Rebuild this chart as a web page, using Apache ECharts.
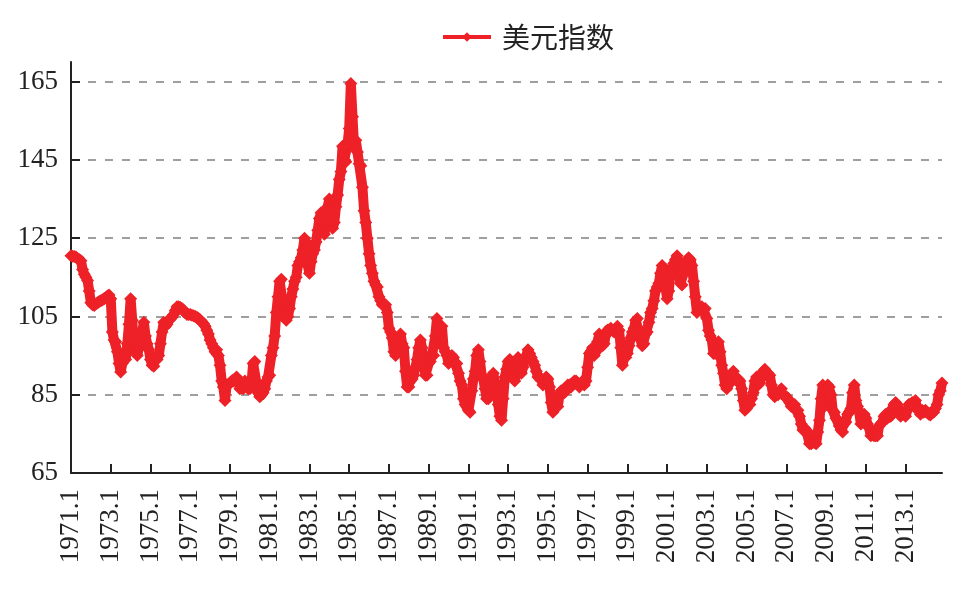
<!DOCTYPE html>
<html>
<head>
<meta charset="utf-8">
<title>美元指数</title>
<script src="https://cdn.jsdelivr.net/npm/echarts@6/dist/echarts.min.js"></script>
<style>
  html, body { margin: 0; padding: 0; background: #ffffff; }
  #chart { width: 976px; height: 590px; }
</style>
</head>
<body>
<div id="chart"></div>
<script>
// monthly values, Jan..Dec
const Y1971 = [120.5, 120.4, 120.3, 120.2, 119.8, 119.5, 119.2, 117.0, 115.8, 115.0, 114.2, 111.5];
const Y1972 = [108.5, 108.0, 107.8, 108.2, 108.5, 108.8, 109.0, 109.2, 109.5, 109.8, 110.2, 110.5];
const Y1973 = [109.5, 101, 99, 98.5, 96, 93, 90.8, 93, 95, 94, 98, 103];
const Y1974 = [109.5, 104, 98, 96, 95, 97, 100, 101, 103.5, 100, 98, 96.5];
const Y1975 = [94, 92.5, 92.3, 94, 94, 95, 98, 101, 103.5, 102.5, 103, 104];
const Y1976 = [104.5, 104.8, 105.5, 106.5, 107.5, 107.5, 107.3, 107, 106.5, 106, 105.5, 105.5];
const Y1977 = [105.5, 105.3, 105.2, 105, 104.8, 104.5, 104, 103.5, 103.2, 102.5, 101.5, 100.5];
const Y1978 = [99, 98, 97, 96, 96.5, 95, 92.5, 88.5, 87, 83.5, 87.5, 87.5];
const Y1979 = [88, 88.5, 88.5, 89, 89.5, 88.5, 86.5, 87, 86.5, 88.5, 87.5, 86.5];
const Y1980 = [86.5, 88, 93, 93.5, 88, 85.5, 84.5, 85, 85.5, 86.5, 88.5, 89.5];
const Y1981 = [90, 95, 97, 100, 106, 110, 114, 114.5, 108, 105, 104, 105];
const Y1982 = [107, 110, 112, 114, 115, 118, 119, 120, 122, 125, 124, 118];
const Y1983 = [116, 119, 121, 122, 124, 127, 130, 131.5, 129, 126, 129, 133];
const Y1984 = [135, 131, 127.5, 129, 133, 136, 140, 142, 148.5, 145, 144.5, 149];
const Y1985 = [153, 164.5, 156, 148, 150, 147, 144, 143.5, 138, 132, 129, 125];
const Y1986 = [121, 118, 116, 114, 113, 112.5, 110, 109, 108, 108, 108, 106];
const Y1987 = [102, 101, 99.5, 96, 95, 97, 99.5, 100.5, 98, 97, 91, 87];
const Y1988 = [87, 88.5, 89, 90, 92, 94, 97, 99, 97, 93, 90, 90];
const Y1989 = [93, 93.5, 95, 95, 100, 104.5, 100, 101, 102.5, 97, 96, 95];
const Y1990 = [93, 93.5, 95, 94.5, 93, 93, 90.5, 88.5, 87.5, 84, 82.5, 82.5];
const Y1991 = [81, 80.5, 86, 89, 91, 95, 96.5, 93.5, 90, 89, 86.5, 84];
const Y1992 = [84, 87, 89.5, 90.5, 88, 86, 82.5, 79.5, 78.5, 84, 89.5, 91.5];
const Y1993 = [93.5, 94, 92, 89.5, 88.5, 91, 94.5, 93, 90.5, 92, 94, 95];
const Y1994 = [96.5, 95.5, 94.5, 93.5, 92.5, 91, 89.5, 89.5, 89, 87.5, 89, 89.5];
const Y1995 = [89, 87, 83, 80.5, 82, 82, 82, 85, 86, 85.5, 85.5, 86];
const Y1996 = [87.5, 87.5, 87, 88, 88.5, 88.5, 88, 87, 88, 88.5, 87.5, 88.5];
const Y1997 = [92, 95.5, 96, 97, 95, 96, 98.5, 100.5, 98, 97.5, 98, 100.5];
const Y1998 = [101.5, 101, 102, 101.5, 101, 102, 102.5, 101.5, 97, 92.5, 94.5, 94.5];
const Y1999 = [95.5, 97.5, 99.5, 101, 102, 104, 104.5, 101, 99, 97.5, 98, 100.5];
const Y2000 = [101, 103.5, 106, 107, 109, 111.5, 112.5, 113.5, 116, 118, 117, 112.5];
const Y2001 = [109.5, 111.5, 116, 117, 118.5, 119.5, 120.5, 117, 113.5, 113, 116, 117.5];
const Y2002 = [119.5, 120, 119.5, 118, 114, 110, 106, 106.5, 107, 107.5, 106.5, 107];
const Y2003 = [104.5, 101.5, 100, 99, 95.5, 95.5, 97, 98.5, 96, 92.5, 90.5, 87.5];
const Y2004 = [86.5, 87.5, 88.5, 90.5, 91, 89.5, 88.5, 89, 88.5, 86.5, 83.5, 81];
const Y2005 = [81.5, 83, 82.5, 84, 85.5, 88.5, 89.5, 87.5, 88, 89.5, 91, 91.5];
const Y2006 = [90, 90.5, 90, 87.5, 85, 84.5, 85, 85, 86, 86.5, 85, 84.5];
const Y2007 = [84.5, 84, 83, 82, 82, 82.5, 81, 81, 79.5, 77.5, 76, 76.5];
const Y2008 = [76, 75.5, 72.5, 72.5, 72.8, 72.8, 72.5, 75.5, 78.5, 84, 87.5, 82];
const Y2009 = [84, 87.5, 87, 85, 81, 80.5, 79, 78.5, 77, 76, 75.5, 77.5];
const Y2010 = [78, 80, 80.5, 81.5, 85.5, 87.5, 83.5, 82, 80.5, 77.5, 78.5, 80];
const Y2011 = [79, 77.5, 76.5, 74.5, 74.8, 74.5, 74.5, 74.5, 77, 77.5, 78, 79.5];
const Y2012 = [80, 79, 79.5, 79.5, 81.5, 82.5, 83, 82.5, 80, 79.5, 80.5, 80];
const Y2013 = [79.5, 81, 82.5, 82.5, 83, 82, 83.5, 81.5, 81, 80, 81, 80.5];
const Y2014 = [81, 80.5, 80, 79.8, 80.5, 80.5, 81.5, 82.5, 85, 86, 88];

const yearBlocks = [
  Y1971, Y1972, Y1973, Y1974, Y1975, Y1976, Y1977, Y1978, Y1979, Y1980,
  Y1981, Y1982, Y1983, Y1984, Y1985, Y1986, Y1987, Y1988, Y1989, Y1990,
  Y1991, Y1992, Y1993, Y1994, Y1995, Y1996, Y1997, Y1998, Y1999, Y2000,
  Y2001, Y2002, Y2003, Y2004, Y2005, Y2006, Y2007, Y2008, Y2009, Y2010,
  Y2011, Y2012, Y2013, Y2014,
];
const firstYear = 1971;

const yTicks = [65, 85, 105, 125, 145, 165];

const months = [];
const dollarIndex = [];
yearBlocks.forEach((vals, i) => {
  vals.forEach((v, m) => {
    months.push((firstYear + i) + "." + (m + 1));
    dollarIndex.push(v);
  });
});

// label every Jan of odd years
function isLabelMonth(idx, val) {
  const parts = String(val).split(".");
  return parts[1] === "1" && Number(parts[0]) % 2 === 1;
}

const SERIF = '"Liberation Serif", "Times New Roman", serif';
const RED = "#ed2127";

const chart = echarts.init(document.getElementById("chart"), null, { renderer: "canvas" });

chart.setOption({
  animation: false,
  backgroundColor: "#ffffff",
  legend: {
    top: 18,
    left: 436,
    itemWidth: 48,
    itemHeight: 12,
    itemGap: 10,
    data: ["美元指数"],
    lineStyle: { width: 4 },
    textStyle: {
      fontFamily: '"Noto Sans CJK SC", sans-serif',
      fontSize: 28,
      color: "#222222",
      padding: [0, 0, 0, 6],
    },
  },
  grid: {
    left: 71,
    right: 34,
    top: 62,
    bottom: 117,
  },
  xAxis: {
    type: "category",
    data: months,
    boundaryGap: false,
    axisLine: { lineStyle: { color: "#222222", width: 2 } },
    axisTick: {
      inside: true,
      length: 9,
      interval: isLabelMonth,
      lineStyle: { color: "#222222", width: 2 },
    },
    axisLabel: {
      interval: isLabelMonth,
      rotate: 90,
      margin: 16,
      fontFamily: SERIF,
      fontSize: 27,
      color: "#222222",
    },
    splitLine: { show: false },
  },
  yAxis: {
    type: "value",
    min: 65,
    max: 170,
    axisLine: { show: true, lineStyle: { color: "#222222", width: 2 } },
    axisTick: {
      show: true,
      inside: true,
      length: 9,
      customValues: yTicks,
      lineStyle: { color: "#222222", width: 2 },
    },
    axisLabel: {
      customValues: yTicks,
      margin: 13,
      fontFamily: SERIF,
      fontSize: 27,
      color: "#222222",
    },
    splitLine: {
      show: true,
      lineStyle: { color: "#808080", width: 1.5, type: [8, 9] },
    },
  },
  series: [
    {
      name: "美元指数",
      type: "line",
      data: dollarIndex,
      color: RED,
      showSymbol: true,
      showAllSymbol: true,
      symbol: "diamond",
      symbolSize: 13,
      lineStyle: { width: 10, color: RED },
      itemStyle: { color: RED },
      z: 3,
    },
  ],
});
</script>
</body>
</html>
